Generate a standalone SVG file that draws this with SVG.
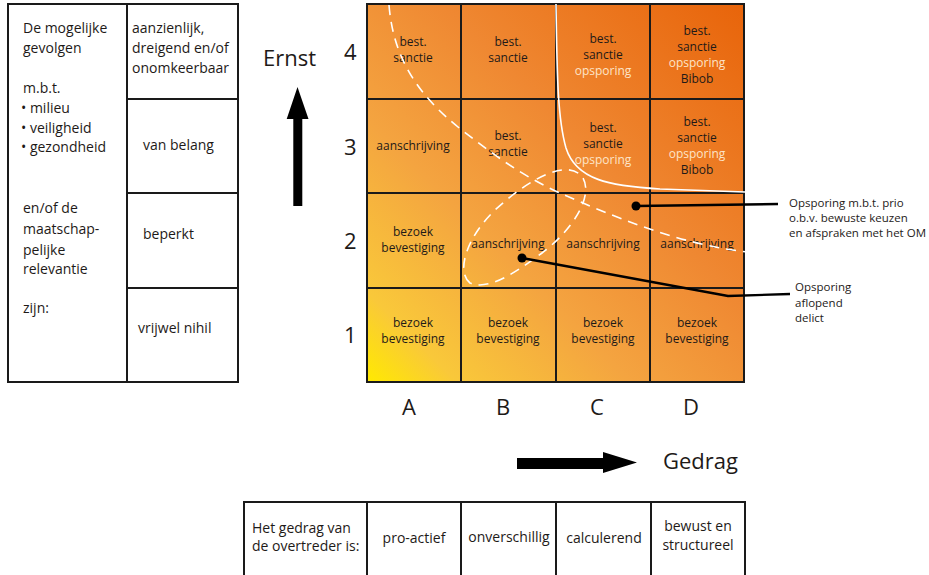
<svg xmlns="http://www.w3.org/2000/svg" width="929" height="575" viewBox="0 0 929 575">
  <style>
    text { font-family: "Open Sans", "Noto Sans", "DejaVu Sans", sans-serif; fill: #1e1a18; }
    .t14 { font-size: 14px; }
    .cell { font-size: 12px; text-anchor: middle; }
    .lite { fill: #fde4c8; }
    .ax { font-size: 22px; }
    .note { font-size: 11.5px; }
    .box { fill: #ffffff; stroke: #1a1a1a; stroke-width: 2; }
    .grid { fill: none; stroke: #1a1a1a; stroke-width: 2; }
    .dash { fill: none; stroke: #ffffff; stroke-width: 1.6; stroke-dasharray: 10 7; }
    .ptr { fill: none; stroke: #000000; stroke-width: 2.4; }
  </style>
  <defs>
    <linearGradient id="heat" gradientUnits="userSpaceOnUse" x1="367" y1="382" x2="744" y2="4">
      <stop offset="0" stop-color="#ffea00"/>
      <stop offset="0.12" stop-color="#f9c83a"/>
      <stop offset="0.35" stop-color="#f4a440"/>
      <stop offset="0.6" stop-color="#ef8832"/>
      <stop offset="1" stop-color="#e8640a"/>
    </linearGradient>
  </defs>

  <rect width="929" height="575" fill="#ffffff"/>

  <!-- consequences table -->
  <g id="gevolgen-tabel">
    <rect class="box" x="8" y="4" width="230" height="378"/>
    <line class="grid" x1="127" y1="4" x2="127" y2="382"/>
    <line class="grid" x1="127" y1="99" x2="238" y2="99"/>
    <line class="grid" x1="127" y1="193" x2="238" y2="193"/>
    <line class="grid" x1="127" y1="288" x2="238" y2="288"/>
    <text class="t14" x="23" y="33">De mogelijke</text>
    <text class="t14" x="23" y="53">gevolgen</text>
    <text class="t14" x="23" y="93">m.b.t.</text>
    <text class="t14" x="21" y="113">• milieu</text>
    <text class="t14" x="21" y="133">• veiligheid</text>
    <text class="t14" x="21" y="152">• gezondheid</text>
    <text class="t14" x="23" y="213">en/of de</text>
    <text class="t14" x="23" y="234">maatschap-</text>
    <text class="t14" x="23" y="255">pelijke</text>
    <text class="t14" x="23" y="274">relevantie</text>
    <text class="t14" x="23" y="313">zijn:</text>
    <text class="t14" x="132" y="33">aanzienlijk,</text>
    <text class="t14" x="132" y="53">dreigend en/of</text>
    <text class="t14" x="132" y="73">onomkeerbaar</text>
    <text class="t14" x="143" y="150">van belang</text>
    <text class="t14" x="143" y="239">beperkt</text>
    <text class="t14" x="138" y="333">vrijwel nihil</text>
  </g>

  <!-- severity axis -->
  <g id="as-ernst">
    <text class="ax" x="263" y="66">Ernst</text>
    <path d="M297.5,87 L308.5,119 L302.3,119 L302.3,206 L293.3,206 L293.3,119 L286.7,119 Z" fill="#000000"/>
    <text class="ax" x="344" y="60">4</text>
    <text class="ax" x="344" y="155">3</text>
    <text class="ax" x="344" y="249">2</text>
    <text class="ax" x="344" y="343">1</text>
  </g>

  <!-- behaviour axis -->
  <g id="as-gedrag">
    <text class="ax" x="409" y="415" text-anchor="middle">A</text>
    <text class="ax" x="503" y="415" text-anchor="middle">B</text>
    <text class="ax" x="597" y="415" text-anchor="middle">C</text>
    <text class="ax" x="691" y="415" text-anchor="middle">D</text>
    <path d="M517,458 L603,458 L603,452 L637,462.5 L603,473 L603,469 L517,469 Z" fill="#000000"/>
    <text class="ax" x="663" y="469">Gedrag</text>
  </g>

  <!-- matrix -->
  <g id="matrix">
    <rect x="367" y="4" width="377" height="378" fill="url(#heat)"/>
    <path class="grid" d="M367,4 H744 V382 H367 Z M461,4 V382 M556,4 V382 M650,4 V382 M367,99 H744 M367,193 H744 M367,288 H744"/>

    <!-- row 4 -->
    <text class="cell" x="413" y="46">best.</text>
    <text class="cell" x="413" y="62">sanctie</text>
    <text class="cell" x="508" y="46">best.</text>
    <text class="cell" x="508" y="62">sanctie</text>
    <text class="cell" x="603" y="43">best.</text>
    <text class="cell" x="603" y="59">sanctie</text>
    <text class="cell lite" x="603" y="75">opsporing</text>
    <text class="cell" x="697" y="35">best.</text>
    <text class="cell" x="697" y="51">sanctie</text>
    <text class="cell lite" x="697" y="67">opsporing</text>
    <text class="cell" x="697" y="83">Bibob</text>

    <!-- row 3 -->
    <text class="cell" x="413" y="150">aanschrijving</text>
    <text class="cell" x="508" y="140">best.</text>
    <text class="cell" x="508" y="156">sanctie</text>
    <text class="cell" x="603" y="132">best.</text>
    <text class="cell" x="603" y="148">sanctie</text>
    <text class="cell lite" x="603" y="164">opsporing</text>
    <text class="cell" x="697" y="126">best.</text>
    <text class="cell" x="697" y="142">sanctie</text>
    <text class="cell lite" x="697" y="158">opsporing</text>
    <text class="cell" x="697" y="174">Bibob</text>

    <!-- row 2 -->
    <text class="cell" x="413" y="236">bezoek</text>
    <text class="cell" x="413" y="252">bevestiging</text>
    <text class="cell" x="508" y="248">aanschrijving</text>
    <text class="cell" x="603" y="248">aanschrijving</text>
    <text class="cell" x="697" y="248">aanschrijving</text>

    <!-- row 1 -->
    <text class="cell" x="413" y="327">bezoek</text>
    <text class="cell" x="413" y="343">bevestiging</text>
    <text class="cell" x="508" y="327">bezoek</text>
    <text class="cell" x="508" y="343">bevestiging</text>
    <text class="cell" x="603" y="327">bezoek</text>
    <text class="cell" x="603" y="343">bevestiging</text>
    <text class="cell" x="697" y="327">bezoek</text>
    <text class="cell" x="697" y="343">bevestiging</text>
  </g>

  <!-- boundaries drawn over the matrix -->
  <g id="grenzen">
    <path class="dash" d="M389,5 C393,55 415,92 458,127 C490,152 520,175 560,193 C610,215 680,245 748,252"/>
    <path class="dash" d="M470,283 C456,272 466,238 495,210 C525,182 568,156 583,178 C594,198 570,232 542,253 C515,273 488,291 470,283 Z"/>
    <path d="M556,4 C557,80 558,120 566,148 C576,180 610,186 660,189 L745,192" fill="none" stroke="#ffffff" stroke-width="1.6"/>
  </g>

  <!-- pointers with notes -->
  <g id="connectors">
    <circle cx="636" cy="206" r="4.5" fill="#000000"/>
    <path class="ptr" d="M636,206 L778,204"/>
    <circle cx="522" cy="258" r="4.5" fill="#000000"/>
    <path class="ptr" d="M522,258 L728,296 L790,294"/>
  </g>

  <g id="noot-prio">
    <text class="note" x="789" y="207">Opsporing m.b.t. prio</text>
    <text class="note" x="789" y="222">o.b.v. bewuste keuzen</text>
    <text class="note" x="789" y="237">en afspraken met het OM</text>
  </g>
  <g id="noot-delict">
    <text class="note" x="795" y="291">Opsporing</text>
    <text class="note" x="795" y="307">aflopend</text>
    <text class="note" x="795" y="322">delict</text>
  </g>

  <!-- offender behaviour table -->
  <g id="gedrag-tabel">
    <path class="grid" d="M244,577 V502 H745 V577 M367,502 V577 M461,502 V577 M556,502 V577 M651,502 V577"/>
    <text class="t14" x="252" y="533">Het gedrag van</text>
    <text class="t14" x="252" y="551">de overtreder is:</text>
    <text class="t14" x="414" y="543" text-anchor="middle">pro-actief</text>
    <text class="t14" x="509" y="542" text-anchor="middle">onverschillig</text>
    <text class="t14" x="604" y="543" text-anchor="middle">calculerend</text>
    <text class="t14" x="698" y="531" text-anchor="middle">bewust en</text>
    <text class="t14" x="698" y="550" text-anchor="middle">structureel</text>
  </g>
</svg>
